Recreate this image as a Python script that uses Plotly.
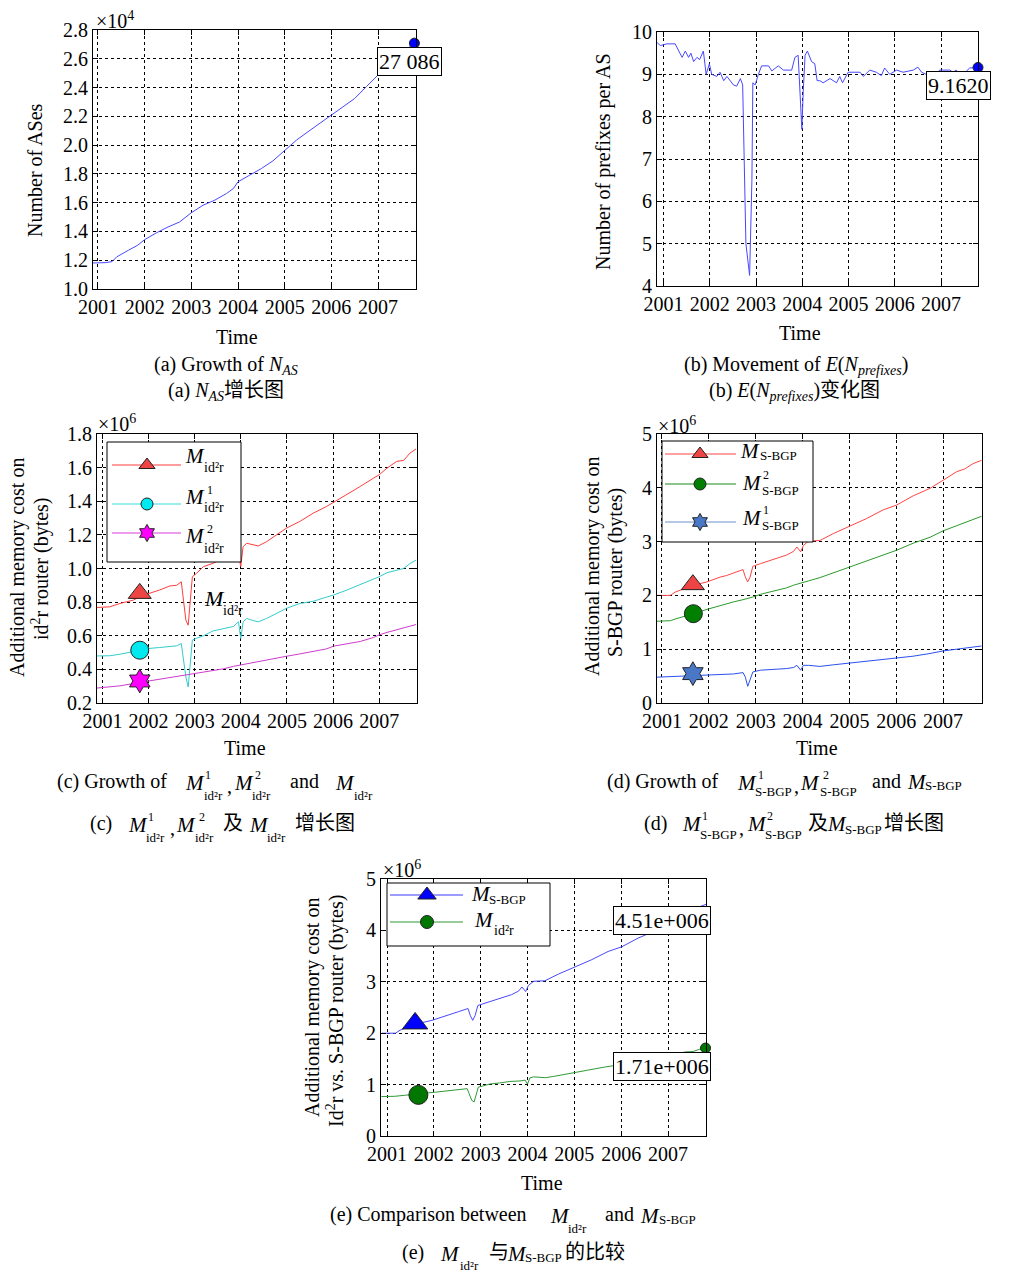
import plotly.graph_objects as go

W, H = 1018, 1273
SERIF = "Liberation Serif"
CJK = "Liberation Serif, Noto Sans CJK SC"

# ---------------- data ----------------
year_ticks = [2001, 2002, 2003, 2004, 2005, 2006, 2007]
y_ticks_a = [1.0, 1.2, 1.4, 1.6, 1.8, 2.0, 2.2, 2.4, 2.6, 2.8]   # x10^4
y_ticks_b = [4, 5, 6, 7, 8, 9, 10]
y_ticks_c = [0.2, 0.4, 0.6, 0.8, 1.0, 1.2, 1.4, 1.6, 1.8]          # x10^6
y_ticks_d = [0, 1, 2, 3, 4, 5]                                     # x10^6
y_ticks_e = [0, 1, 2, 3, 4, 5]                                     # x10^6

# (a) number of ASes
years_a = [2000.89, 2001.15, 2001.30, 2001.40, 2001.65, 2001.85, 2002.00, 2002.25, 2002.50, 2002.75,
           2003.00, 2003.25, 2003.50, 2003.75, 2003.90, 2004.00, 2004.25, 2004.50, 2004.75, 2005.00,
           2005.25, 2005.50, 2005.75, 2006.00, 2006.25, 2006.50, 2006.75, 2007.00, 2007.25, 2007.50, 2007.78]
n_as = [11810, 11830, 11900, 12230, 12690, 13040, 13430, 13900, 14310, 14660,
        15300, 15820, 16170, 16630, 16980, 17450, 17910, 18370, 18910, 19650,
        20340, 20930, 21510, 22090, 22710, 23240, 24060, 24870, 25560, 26380, 27086]

# (b) E(N_prefixes)
years_b = [2000.86, 2000.93, 2001.07, 2001.25, 2001.40, 2001.47, 2001.54, 2001.59, 2001.65, 2001.72,
           2001.78, 2001.86, 2001.92, 2001.99, 2002.04, 2002.15, 2002.22, 2002.30, 2002.37, 2002.44,
           2002.51, 2002.58, 2002.66, 2002.71, 2002.74, 2002.78, 2002.86, 2002.91, 2002.93, 2002.98,
           2003.05, 2003.12, 2003.27, 2003.34, 2003.48, 2003.59, 2003.77, 2003.84, 2003.91, 2003.95,
           2003.99, 2004.02, 2004.06, 2004.11, 2004.20, 2004.27, 2004.32, 2004.38, 2004.45, 2004.60,
           2004.74, 2004.81, 2004.87, 2004.99, 2005.10, 2005.25, 2005.32, 2005.46, 2005.60, 2005.71,
           2005.78, 2005.89, 2006.04, 2006.18, 2006.40, 2006.50, 2006.58, 2006.68, 2006.90, 2006.97,
           2007.19, 2007.26, 2007.33, 2007.40, 2007.48, 2007.62, 2007.80]
e_prefixes = [9.75, 9.68, 9.72, 9.72, 9.40, 9.55, 9.40, 9.50, 9.30, 9.40,
              9.35, 9.55, 9.00, 9.25, 9.00, 8.95, 9.05, 8.85, 8.95, 8.85,
              8.75, 8.72, 8.90, 8.75, 6.80, 5.00, 4.25, 6.50, 8.80, 8.75,
              9.00, 9.20, 9.20, 9.08, 9.20, 9.10, 9.10, 9.40, 9.45, 8.60,
              7.70, 8.60, 9.45, 9.55, 9.30, 9.25, 8.85, 8.85, 8.80, 8.90,
              8.80, 8.95, 8.80, 9.05, 9.05, 9.05, 8.95, 9.10, 9.05, 8.97,
              9.15, 9.00, 9.10, 9.05, 9.10, 9.17, 9.05, 9.00, 9.00, 9.10,
              9.10, 9.05, 9.10, 9.00, 9.00, 9.15, 9.162]

# (c) id2r memory cost (x10^6 bytes)
years_c = [2000.88, 2001.16, 2001.38, 2001.67, 2001.88, 2002.03, 2002.24, 2002.46, 2002.61, 2002.71,
           2002.75, 2002.81, 2002.86, 2002.91, 2002.95, 2003.04, 2003.19, 2003.40, 2003.62, 2003.84,
           2003.95, 2004.00, 2004.05, 2004.13, 2004.27, 2004.38, 2004.56, 2004.78, 2004.99, 2005.28,
           2005.57, 2005.86, 2006.01, 2006.30, 2006.59, 2006.88, 2007.00, 2007.17, 2007.38, 2007.53,
           2007.67, 2007.80]
m_id2r = [0.768, 0.772, 0.792, 0.812, 0.840, 0.852, 0.872, 0.896, 0.900, 0.921,
          0.832, 0.693, 0.663, 0.832, 0.951, 0.971, 1.011, 1.031, 1.061, 1.071,
          1.087, 1.011, 1.130, 1.150, 1.140, 1.134, 1.160, 1.200, 1.240, 1.280,
          1.329, 1.369, 1.393, 1.438, 1.488, 1.538, 1.557, 1.597, 1.637, 1.643,
          1.687, 1.711]
m1_id2r = [0.480, 0.481, 0.490, 0.505, 0.516, 0.525, 0.530, 0.536, 0.540, 0.554,
           0.474, 0.355, 0.295, 0.454, 0.574, 0.585, 0.600, 0.629, 0.643, 0.655,
           0.683, 0.584, 0.683, 0.703, 0.690, 0.683, 0.703, 0.733, 0.763, 0.792,
           0.805, 0.830, 0.842, 0.872, 0.905, 0.935, 0.951, 0.975, 0.991, 1.000,
           1.030, 1.050]
m2_id2r = [0.289, 0.295, 0.302, 0.316, 0.325, 0.331, 0.340, 0.350, 0.356, 0.362,
           0.363, 0.366, 0.368, 0.370, 0.372, 0.375, 0.381, 0.392, 0.403, 0.418,
           0.424, 0.427, 0.430, 0.434, 0.441, 0.447, 0.457, 0.468, 0.478, 0.492,
           0.506, 0.522, 0.538, 0.551, 0.566, 0.590, 0.605, 0.620, 0.634, 0.645,
           0.657, 0.667]

# (d) S-BGP memory cost (x10^6 bytes)
years_d = [2000.89, 2001.18, 2001.28, 2001.53, 2001.67, 2001.96, 2002.24, 2002.38, 2002.53, 2002.73,
           2002.78, 2002.83, 2002.88, 2002.94, 2003.10, 2003.38, 2003.66, 2003.81, 2003.88, 2003.96,
           2004.02, 2004.13, 2004.37, 2004.66, 2005.01, 2005.37, 2005.72, 2006.01, 2006.36, 2006.72,
           2007.00, 2007.29, 2007.46, 2007.64, 2007.82]
m_sbgp = [2.00, 2.00, 2.06, 2.14, 2.19, 2.25, 2.34, 2.37, 2.42, 2.48,
          2.34, 2.25, 2.34, 2.54, 2.59, 2.67, 2.75, 2.82, 2.90, 2.81,
          2.93, 3.01, 3.02, 3.15, 3.29, 3.43, 3.59, 3.68, 3.85, 3.99,
          4.14, 4.30, 4.35, 4.45, 4.51]
m2_sbgp = [1.52, 1.53, 1.56, 1.62, 1.66, 1.74, 1.81, 1.85, 1.88, 1.92,
           1.93, 1.94, 1.95, 1.97, 2.02, 2.08, 2.14, 2.19, 2.21, 2.23,
           2.25, 2.27, 2.33, 2.42, 2.53, 2.63, 2.74, 2.84, 2.97, 3.08,
           3.20, 3.30, 3.36, 3.42, 3.47]
m1_sbgp = [0.48, 0.49, 0.50, 0.51, 0.515, 0.515, 0.525, 0.53, 0.54, 0.565,
           0.48, 0.31, 0.42, 0.577, 0.61, 0.62, 0.64, 0.66, 0.70, 0.61,
           0.70, 0.70, 0.68, 0.71, 0.744, 0.78, 0.81, 0.844, 0.87, 0.92,
           0.968, 1.00, 1.02, 1.04, 1.06]

# curve markers (time, value)
mark_c_t = [2001.81, 2001.81, 2001.81]
mark_c_v = [0.852, 0.514, 0.331]
mark_d_t = [2001.66, 2001.67, 2001.66]
mark_d_v = [2.20, 1.66, 0.546]
mark_e_t = [2001.60, 2001.67]
mark_e_v = [2.19, 0.80]

# ---------------- helpers ----------------
def fx(p):
    return p / W


def fy(p):
    return 1 - p / H


fig = go.Figure()

panels = [
    ("", (93, 416), (30, 289), (2000.893, 2007.814), (1.0, 2.8), y_ticks_a, ".1f"),
    ("2", (657, 978), (32, 286), (2000.857, 2007.80), (4, 10), y_ticks_b, "d"),
    ("3", (97, 417), (434, 703), (2000.883, 2007.82), (0.2, 1.8), y_ticks_c, ".1f"),
    ("4", (657, 982), (434, 703), (2000.894, 2007.83), (0, 5), y_ticks_d, "d"),
    ("5", (381, 706), (879, 1136), (2000.872, 2007.81), (0, 5), y_ticks_e, "d"),
]

common = dict(showline=True, linecolor="black", linewidth=1, mirror="ticks",
              ticks="inside", ticklen=5, tickcolor="black", tickwidth=1,
              showgrid=True, gridcolor="black", gridwidth=1, griddash="3px,3px",
              zeroline=False, automargin=False,
              tickfont=dict(family=SERIF, size=20, color="black"),
              fixedrange=True)

layout_axes = {}
for suf, (x0, x1), (y0, y1), xr, yr, yt, fmt in panels:
    layout_axes["xaxis" + suf] = dict(common, domain=[fx(x0), fx(x1)], range=list(xr),
                                      anchor="y" + suf, tickvals=year_ticks,
                                      ticktext=[str(v) for v in year_ticks])
    layout_axes["yaxis" + suf] = dict(common, domain=[fy(y1), fy(y0)], range=list(yr),
                                      anchor="x" + suf, tickvals=yt, tickformat=fmt)

# overlay pixel axis for legends
layout_axes["xaxis6"] = dict(domain=[0, 1], range=[0, W], anchor="y6", visible=False,
                             showgrid=False, zeroline=False, fixedrange=True, automargin=False)
layout_axes["yaxis6"] = dict(domain=[0, 1], range=[H, 0], anchor="x6", visible=False,
                             showgrid=False, zeroline=False, fixedrange=True, automargin=False)


def line(x, y, ax, color, width=1):
    fig.add_trace(go.Scatter(x=x, y=y, xaxis="x" + ax, yaxis="y" + ax, mode="lines",
                             line=dict(color=color, width=width), hoverinfo="skip"))


def mark(x, y, ax, symbol, color, size, edge="#222222"):
    fig.add_trace(go.Scatter(x=x, y=y, xaxis="x" + ax, yaxis="y" + ax, mode="markers",
                             cliponaxis=False,
                             marker=dict(symbol=symbol, color=color, size=size,
                                         line=dict(color=edge, width=1)),
                             hoverinfo="skip"))


# (a)
line(years_a, [v / 1e4 for v in n_as], "", "#4848ff")
mark([years_a[-1]], [n_as[-1] / 1e4], "", "circle", "#0000ff", 10)
# (b)
line(years_b, e_prefixes, "2", "#4848ff")
mark([years_b[-1]], [e_prefixes[-1]], "2", "circle", "#0000ff", 10)
# (c)
line(years_c, m_id2r, "3", "#ff3c3c")
line(years_c, m1_id2r, "3", "#33cccc")
line(years_c, m2_id2r, "3", "#cc3ccc")
mark([mark_c_t[0]], [mark_c_v[0]], "3", "triangle-up", "#ee4444", 20)
mark([mark_c_t[1]], [mark_c_v[1]], "3", "circle", "#00e8f0", 18)
mark([mark_c_t[2]], [mark_c_v[2]], "3", "hexagram", "#ff00ff", 18)
# (d)
line(years_d, m_sbgp, "4", "#ff4444")
line(years_d, m2_sbgp, "4", "#2a9a2a")
line(years_d, m1_sbgp, "4", "#2a50f0")
mark([mark_d_t[0]], [mark_d_v[0]], "4", "triangle-up", "#ee4444", 20)
mark([mark_d_t[1]], [mark_d_v[1]], "4", "circle", "#007f00", 18)
mark([mark_d_t[2]], [mark_d_v[2]], "4", "hexagram", "#4a78c8", 18)
# (e)
line(years_d, m_sbgp, "5", "#4848ff")
line(years_c, m_id2r, "5", "#2f9a35")
mark([mark_e_t[0]], [mark_e_v[0]], "5", "triangle-up", "#0000ff", 22)
mark([mark_e_t[1]], [mark_e_v[1]], "5", "circle", "#007700", 19)
mark([years_d[-1]], [m_sbgp[-1]], "5", "circle", "#0000ff", 10)
mark([years_c[-1]], [m_id2r[-1]], "5", "circle", "#007700", 10)

# ---------------- legends (pixel overlay) ----------------
legends = [
    ((107, 442, 241, 562), (112, 181), 147,
     [(465, "#ff3c3c", "triangle-up", "#ee4444", 14),
      (504, "#33dddd", "circle", "#00e8f0", 12),
      (533, "#dd3cdd", "hexagram", "#ff00ff", 13)]),
    ((662, 441, 813, 542), (665, 736), 700,
     [(454, "#ff4444", "triangle-up", "#ee4444", 14),
      (484, "#1a8a1a", "circle", "#007f00", 12),
      (522, "#6a8fd0", "hexagram", "#4a78c8", 13)]),
    ((387, 883, 550, 946), (390, 463), 427,
     [(895, "#3a3aff", "triangle-up", "#0000ff", 16),
      (922, "#2f9a35", "circle", "#007700", 13)]),
]
for (bx0, by0, bx1, by1), (lx0, lx1), mx, rows in legends:
    fig.add_trace(go.Scatter(x=[bx0, bx1, bx1, bx0, bx0], y=[by0, by0, by1, by1, by0],
                             xaxis="x6", yaxis="y6", mode="lines", fill="toself",
                             fillcolor="white", line=dict(color="black", width=1),
                             hoverinfo="skip", cliponaxis=False))
    for yy, lc, sym, fc, ms in rows:
        fig.add_trace(go.Scatter(x=[lx0, lx1], y=[yy, yy], xaxis="x6", yaxis="y6",
                                 mode="lines", line=dict(color=lc, width=1.2),
                                 hoverinfo="skip", cliponaxis=False))
        fig.add_trace(go.Scatter(x=[mx], y=[yy], xaxis="x6", yaxis="y6", mode="markers",
                                 marker=dict(symbol=sym, color=fc, size=ms,
                                             line=dict(color="#222222", width=1)),
                                 hoverinfo="skip", cliponaxis=False))

# ---------------- annotations ----------------
ann = []


def text(x, y, s, size=20, xa="center", ya="middle", angle=0, font=SERIF, **kw):
    ann.append(dict(x=fx(x), y=fy(y), xref="paper", yref="paper", text=s, showarrow=False,
                    xanchor=xa, yanchor=ya, textangle=angle,
                    font=dict(family=font, size=size, color="black"), **kw))


def M(x, y, size=21):
    text(x, y, "<i>M</i>", size=size, xa="left")


def small(x, y, s, size=13):
    text(x, y, s, size=size, xa="left")


def plain(x, y, s, size=20, font=SERIF):
    text(x, y, s, size=size, xa="left", font=font)


# axis titles "Time"
for x, y in [(237, 337), (800, 333), (245, 748), (817, 748), (542, 1183)]:
    text(x, y, "Time")

# y titles
text(35, 170, "Number of ASes", angle=-90)
text(604, 162, "Number of prefixes per AS", angle=-90)
text(17, 568, "Additional memory cost on", angle=-90)
text(41, 569, "id<sup>2</sup>r router (bytes)", angle=-90)
text(592, 567, "Additional memory cost on", angle=-90)
text(615, 573, "S-BGP router (bytes)", angle=-90)
text(312, 1008, "Additional memory cost on", angle=-90)
text(335, 1011, "Id<sup>2</sup>r vs. S-BGP router (bytes)", angle=-90)

# exponents
text(94, 20, "×10<sup>4</sup>", xa="left")
text(96, 423, "×10<sup>6</sup>", xa="left")
text(656, 425, "×10<sup>6</sup>", xa="left")
text(381, 869, "×10<sup>6</sup>", xa="left")

# data tips
box = dict(bordercolor="black", borderwidth=1, bgcolor="white", borderpad=1)
text(409, 61, "27 086", size=22, **box)
text(958, 86, "9.1620", size=22, **box)
text(662, 920, "4.51e+006", size=22, **box)
text(662, 1066, "1.71e+006", size=22, **box)

# in-plot label (c)
M(202, 598, 22)
small(221, 610, "id²r", 14)

# legend texts (c)
M(183, 456); small(202, 467, "id²r", 14)
M(183, 497); small(205, 490, "1", 12); small(202, 508, "id²r", 14)
M(183, 536); small(205, 529, "2", 12); small(202, 548, "id²r", 14)
# legend texts (d)
M(738, 451); small(758, 456, "S-BGP", 13)
M(740, 483); small(761, 475, "2", 12); small(760, 491, "S-BGP", 13)
M(740, 518); small(761, 510, "1", 12); small(760, 526, "S-BGP", 13)
# legend texts (e)
M(469, 894); small(487, 899, "S-BGP", 13)
M(472, 920); small(492, 930, "id²r", 14)

# captions (a), (b)
text(226, 365, "(a) Growth of <i>N</i><sub><i>AS</i></sub>", size=20)
text(226, 391, "(a) <i>N</i><sub><i>AS</i></sub>增长图", size=20, font=CJK)
text(796, 365, "(b) Movement of <i>E</i>(<i>N</i><sub><i>prefixes</i></sub>)", size=20)
text(794, 391, "(b) <i>E</i>(<i>N</i><sub><i>prefixes</i></sub>)变化图", size=20, font=CJK)

# caption (c)
plain(55, 781, "(c) Growth of")
M(183, 783); small(203, 775, "1", 12); small(202, 795, "id²r")
plain(225, 786, ",")
M(232, 783); small(253, 775, "2", 12); small(250, 795, "id²r")
plain(288, 781, "and")
M(333, 783); small(352, 795, "id²r")
plain(88, 823, "(c)")
M(126, 825); small(146, 817, "1", 12); small(144, 837, "id²r")
plain(168, 828, ",")
M(174, 825); small(197, 817, "2", 12); small(193, 837, "id²r")
plain(221, 823, "及", font=CJK)
M(247, 825); small(265, 837, "id²r")
plain(293, 823, "增长图", font=CJK)

# caption (d)
plain(605, 781, "(d) Growth of")
M(735, 783); small(756, 775, "1", 12); small(753, 791, "S-BGP")
plain(792, 786, ",")
M(798, 783); small(821, 775, "2", 12); small(818, 791, "S-BGP")
plain(870, 781, "and")
M(905, 782); small(923, 786, "S-BGP")
plain(642, 823, "(d)")
M(680, 824); small(700, 816, "1", 12); small(698, 834, "S-BGP")
plain(737, 828, ",")
M(745, 824); small(765, 816, "2", 12); small(763, 834, "S-BGP")
plain(806, 823, "及", font=CJK)
M(825, 824); small(843, 829, "S-BGP")
plain(882, 823, "增长图", font=CJK)

# caption (e)
plain(328, 1214, "(e) Comparison between")
M(548, 1216); small(566, 1228, "id²r")
plain(603, 1214, "and")
M(638, 1216); small(657, 1219, "S-BGP")
plain(400, 1252, "(e)")
M(438, 1254); small(458, 1265, "id²r")
plain(487, 1252, "与", font=CJK)
M(505, 1254); small(523, 1257, "S-BGP")
plain(563, 1252, "的比较", font=CJK)

fig.update_layout(
    width=W, height=H, autosize=False,
    margin=dict(l=0, r=0, t=0, b=0),
    paper_bgcolor="white", plot_bgcolor="rgba(0,0,0,0)",
    showlegend=False, annotations=ann, **layout_axes,
)

fig.write_html(
    "out.html",
    config={"displayModeBar": False, "staticPlot": True},
    post_script="document.body.style.margin='0px';document.body.style.overflow='hidden';",
)
